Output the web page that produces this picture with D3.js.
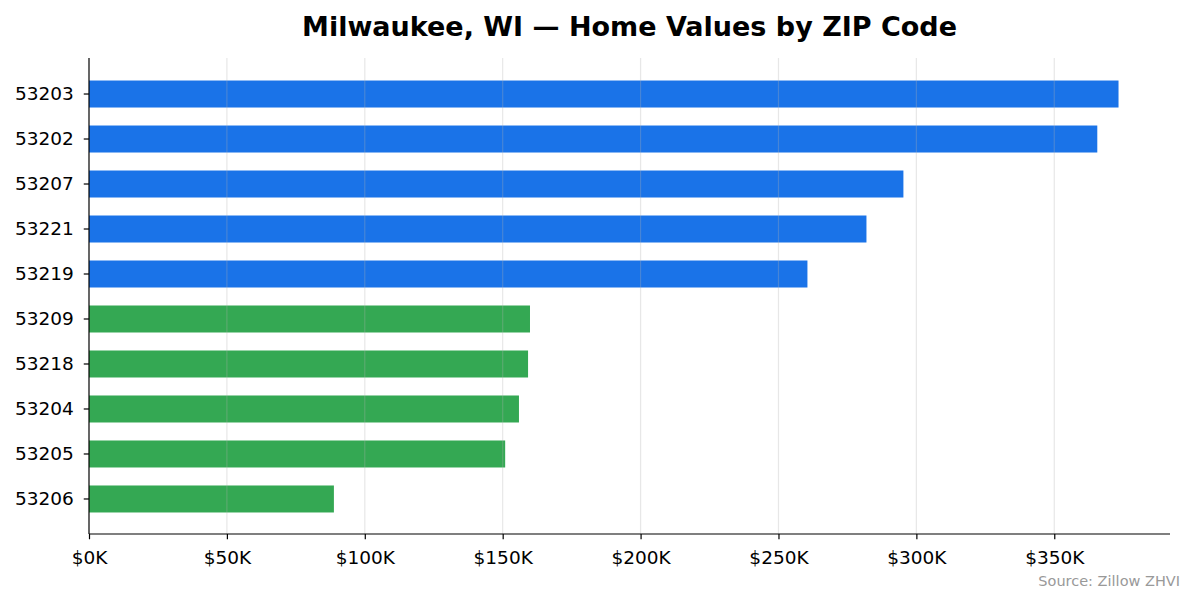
<!DOCTYPE html>
<html>
<head>
<meta charset="utf-8">
<script src="https://cdn.jsdelivr.net/npm/d3@7"></script>
<style>
  body { margin: 0; background: #fff; }
  svg { font-family: 'DejaVu Sans', sans-serif; }
</style>
</head>
<body>
<svg></svg>
<script>
const w = 1195
const h = 603
const m = { top: 58, right: 25, bottom: 69, left: 89 }

const zips = ['53203', '53202', '53207', '53221', '53219', '53209', '53218', '53204', '53205', '53206']
const values = [373300, 365600, 295300, 281900, 260500, 159900, 159200, 155900, 150900, 88800]
const groups = ['high', 'high', 'high', 'high', 'high', 'low', 'low', 'low', 'low', 'low']
const xTicks = [0, 50000, 100000, 150000, 200000, 250000, 300000, 350000]

const colors = { high: '#1a73e8', low: '#34a853' }

const data = zips.map((z, i) => ({ zip: z, value: values[i], group: groups[i] }))

const svg = d3.select('svg').attr('width', w).attr('height', h)

const x = d3.scaleLinear()
  .domain([0, d3.max(values) * 1.05])
  .range([m.left, w - m.right])

const y = d3.scaleBand()
  .domain(zips)
  .range([m.top + 2, h - m.bottom - 1])
  .paddingInner(0.4)
  .paddingOuter(0.456)

svg.selectAll('rect.bar')
  .data(data)
  .enter()
  .append('rect')
  .attr('class', 'bar')
  .attr('x', x(0))
  .attr('y', d => y(d.zip))
  .attr('width', d => x(d.value) - x(0))
  .attr('height', y.bandwidth())
  .attr('fill', d => colors[d.group])

// grid sits above the bars, like matplotlib's default
svg.append('g')
  .selectAll('line')
  .data(xTicks.slice(1))
  .enter()
  .append('line')
  .attr('x1', d => x(d))
  .attr('x2', d => x(d))
  .attr('y1', m.top)
  .attr('y2', h - m.bottom)
  .attr('stroke', '#b0b0b0')
  .attr('stroke-opacity', 0.3)
  .attr('stroke-width', 1.2)

const xAxis = d3.axisBottom(x)
  .tickValues(xTicks)
  .tickFormat(d => `$${d / 1000}K`)
  .tickSize(5.25)
  .tickPadding(12)

const yAxis = d3.axisLeft(y)
  .tickSize(5.25)
  .tickPadding(10)

const gx = svg.append('g')
  .attr('transform', `translate(0, ${h - m.bottom})`)
  .call(xAxis)

const gy = svg.append('g')
  .attr('transform', `translate(${m.left}, 0)`)
  .call(yAxis)

for (const g of [gx, gy]) {
  g.select('.domain').remove()
  g.selectAll('.tick line').attr('stroke', '#000').attr('stroke-width', 1.2)
  g.selectAll('.tick text')
    .attr('fill', '#000')
    .style('font-size', '18.5px')
    .style('font-family', 'DejaVu Sans')
}

// left and bottom spines only
svg.append('line')
  .attr('x1', m.left).attr('x2', m.left)
  .attr('y1', m.top).attr('y2', h - m.bottom)
  .attr('stroke', '#000').attr('stroke-width', 1.2)

svg.append('line')
  .attr('x1', m.left).attr('x2', w - m.right)
  .attr('y1', h - m.bottom).attr('y2', h - m.bottom)
  .attr('stroke', '#000').attr('stroke-width', 1.2)

svg.append('text')
  .attr('x', (m.left + w - m.right) / 2)
  .attr('y', 36)
  .attr('text-anchor', 'middle')
  .style('font-size', '27px')
  .style('font-weight', 'bold')
  .text('Milwaukee, WI — Home Values by ZIP Code')

svg.append('text')
  .attr('x', 1180)
  .attr('y', 586)
  .attr('text-anchor', 'end')
  .attr('fill', '#999')
  .style('font-size', '14.5px')
  .text('Source: Zillow ZHVI')
</script>
</body>
</html>
